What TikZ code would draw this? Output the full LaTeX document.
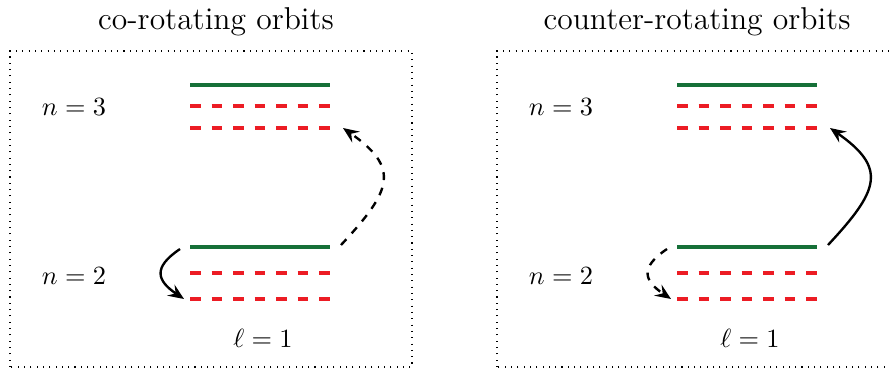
\documentclass[tikz,border=0pt]{standalone}
\usetikzlibrary{arrows.meta}
\definecolor{levelgreen}{RGB}{22,112,56}
\definecolor{levelred}{RGB}{236,28,36}
\begin{document}
\begin{tikzpicture}[x=0.38pt,y=0.38pt,
	level/.style={line width=1.2pt,levelgreen},
	sublevel/.style={line width=1.2pt,levelred,dash pattern=on 4.09pt off 4.09pt},
	jump/.style={line width=0.9pt,-{Stealth[length=6pt,width=5pt,inset=2.2pt]}},
	frame/.style={dotted,thin}]
	\useasboundingbox (0,0) rectangle (889,368);
	\foreach \p/\dx/\tx/\ttl/\up/\down in {co/0/216/co-rotating orbits/dashed/solid,ct/487/210/counter-rotating orbits/solid/dashed}{
	\begin{scope}[shift={(\dx,0)}]
		\draw[frame] (10,1) rectangle (412,317);
		\node (\p-title) at (\tx,346) {\large \ttl};
		\node (\p-n3) at (74,261) {$n=3$};
		\node (\p-n2) at (74,92) {$n=2$};
		\node (\p-l) at (263,30) {$\ell=1$};
		% levels n=3 and n=2
		\draw[level] (190,283) -- ++(140,0);
		\draw[sublevel] (190,262) -- ++(140,0);
		\draw[sublevel] (190,240) -- ++(140,0);
		\draw[level] (190,121) -- ++(140,0);
		\draw[sublevel] (190,95) -- ++(140,0);
		\draw[sublevel] (190,69) -- ++(140,0);
		% transitions
		\coordinate (\p-s2) at (180,119);
		\coordinate (\p-e2) at (184,69);
		\coordinate (\p-s3) at (341,123);
		\coordinate (\p-e3) at (343,240);
		\draw[jump,\down] (\p-s2) .. controls +(214:33) and +(146:33) .. (\p-e2);
		\draw[jump,\up] (\p-s3) .. controls +(47:75) and +(-35:70) .. (\p-e3);
	\end{scope}
	}
\end{tikzpicture}
\end{document}
